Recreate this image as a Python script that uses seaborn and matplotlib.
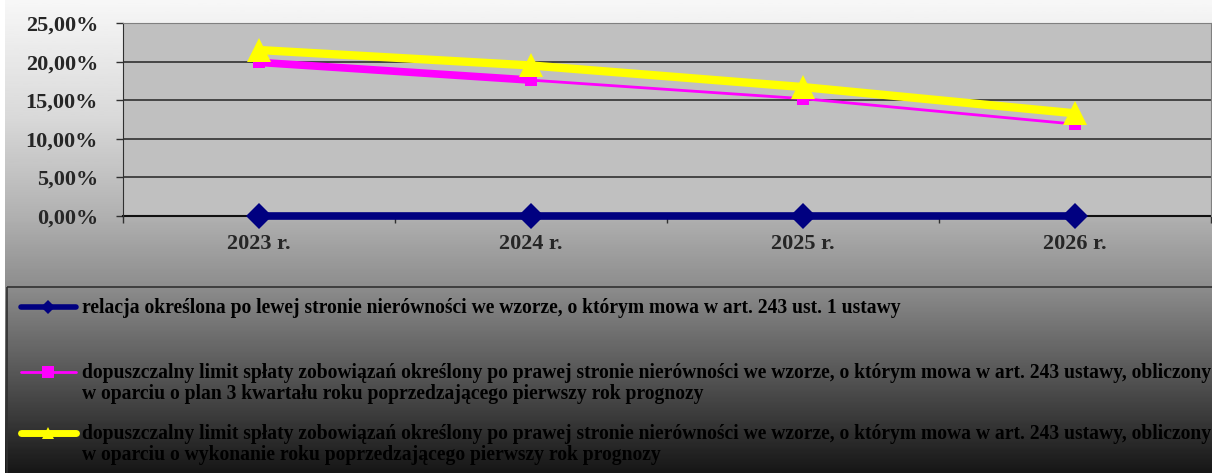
import numpy as np
import matplotlib
matplotlib.use("Agg")
import matplotlib.pyplot as plt
import seaborn as sns
from matplotlib.lines import Line2D
from matplotlib.patches import Rectangle
from matplotlib.ticker import FuncFormatter, FixedLocator

# data
years = ["2023 r.", "2024 r.", "2025 r.", "2026 r."]
relacja = [0.0, 0.0, 0.0, 0.0]
limit_plan = [19.9, 17.6, 15.2, 11.9]
limit_wykon = [21.5, 19.5, 16.7, 13.3]

labels = [
    "relacja określona po lewej stronie nierówności we wzorze, o którym mowa w art. 243 ust. 1 ustawy",
    "dopuszczalny limit spłaty zobowiązań określony po prawej stronie nierówności we wzorze, o którym mowa w art. 243 ustawy, obliczony\n"
    "w oparciu o plan 3 kwartału roku poprzedzającego pierwszy rok prognozy",
    "dopuszczalny limit spłaty zobowiązań określony po prawej stronie nierówności we wzorze, o którym mowa w art. 243 ustawy, obliczony\n"
    "w oparciu o wykonanie roku poprzedzającego pierwszy rok prognozy",
]

sns.set_style("white")
plt.rcParams["font.family"] = ["Liberation Serif", "DejaVu Serif"]
plt.rcParams["font.weight"] = "bold"

W, H = 1212, 473
fig = plt.figure(figsize=(W / 100, H / 100), dpi=100)

# gradient background
bg = fig.add_axes([0, 0, 1, 1], zorder=-10)
rows = np.linspace(0, 1, 200)
stops_y = [0.0, 0.25, 0.45, 0.6, 0.8, 1.0]
stops_v = [0.97, 0.85, 0.70, 0.56, 0.33, 0.09]
grad = np.interp(rows, stops_y, stops_v)[:, None]
bg.imshow(grad, cmap="gray", vmin=0, vmax=1, aspect="auto", extent=[5, W, H, 0])
bg.set_xlim(0, W)
bg.set_ylim(H, 0)
bg.axis("off")

ax = fig.add_axes([123 / W, (H - 216) / H, 1088 / W, (216 - 23) / H])
ax.set_facecolor("#c0c0c0")

x = np.arange(len(years))
sns.lineplot(x=x, y=relacja, ax=ax, color="#000080", lw=5.5, marker="D",
             markersize=13, markeredgewidth=0, zorder=3, clip_on=False)
sns.lineplot(x=x, y=limit_plan, ax=ax, color="#ff00ff", lw=2, marker="s",
             markersize=9, markeredgewidth=0, zorder=3, clip_on=False)
sns.lineplot(x=x[:2], y=limit_plan[:2], ax=ax, color="#ff00ff", lw=5.5,
             zorder=3, clip_on=False)
sns.lineplot(x=x, y=limit_wykon, ax=ax, color="#ffff00", lw=6, marker="^",
             markersize=17, markeredgewidth=0, zorder=4, clip_on=False)

ax.set_xlim(-0.5, len(years) - 0.5)
ax.set_ylim(0, 25)
ax.set_xticks(x)
ax.set_xticklabels(years)
ax.xaxis.set_minor_locator(FixedLocator(np.arange(-0.5, len(years), 1)))
ax.set_yticks(np.arange(0, 26, 5))
ax.yaxis.set_major_formatter(FuncFormatter(lambda v, p: f"{v:.2f}".replace(".", ",") + "%"))
ax.grid(axis="y", color="#303030", lw=1.2)
ax.set_axisbelow(True)
ax.tick_params(axis="x", which="major", length=0, pad=13, labelsize=16)
ax.tick_params(axis="x", which="minor", length=5, width=1, color="#303030", direction="out")
ax.tick_params(axis="y", length=5, width=1, color="#303030", direction="out", pad=13, labelsize=16)
ax.tick_params(left=True, bottom=True, which="both")
for lab in ax.get_xticklabels() + ax.get_yticklabels():
    lab.set_fontweight("bold")
ax.spines["left"].set_color("#303030")
ax.spines["bottom"].set_color("#101010")
ax.spines["bottom"].set_linewidth(1.5)
ax.spines["bottom"].set_zorder(2)
ax.spines["top"].set_color("#808080")
ax.spines["right"].set_color("#808080")
ax.set_xlabel("")
ax.set_ylabel("")

# legend box, drawn by hand
leg = fig.add_axes([0, 0, 1, 1], zorder=5)
leg.set_xlim(0, W)
leg.set_ylim(H, 0)
leg.axis("off")
leg.add_patch(Rectangle((7, 287), W, 200, fill=False, ec="#303030", lw=1.2))
styles = [
    dict(color="#000080", lw=4, marker="D", ms=7),
    dict(color="#ff00ff", lw=2, marker="s", ms=9),
    dict(color="#ffff00", lw=5, marker="^", ms=9),
]
ys = [307, 372, 433]
for y0, st, lab in zip(ys, styles, labels):
    leg.add_line(Line2D([21, 76], [y0, y0], color=st["color"], lw=st["lw"],
                        solid_capstyle="round"))
    leg.add_line(Line2D([48], [y0], color=st["color"], marker=st["marker"],
                        ms=st["ms"], mew=0, lw=0))
    leg.text(82, y0 - 9.5, lab, fontsize=14.1, fontweight="bold", va="top",
             ha="left", color="black", linespacing=1.08)

fig.savefig("out.png", dpi=100)
